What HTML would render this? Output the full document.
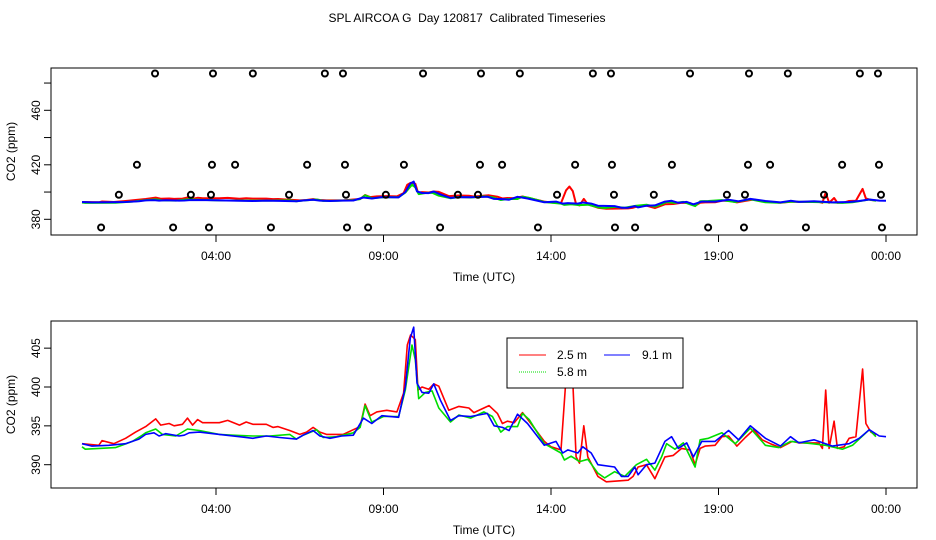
<!DOCTYPE html>
<html><head><meta charset="utf-8"><style>
html,body{margin:0;padding:0;background:#fff;}
svg{display:block;font-family:"Liberation Sans",Arial,sans-serif;}
</style></head><body>
<svg id="chart" width="936" height="540" viewBox="0 0 936 540">
<rect width="936" height="540" fill="#fff"/>
<text x="467" y="22" font-size="12" text-anchor="middle" style="white-space:pre" xml:space="preserve">SPL AIRCOA G  Day 120817  Calibrated Timeseries</text>
<g id="top"></g>
<g id="bot"></g>
</svg>
<script>
const xTicks = [4, 9, 14, 19, 24];
const xTickLabels = ["04:00", "09:00", "14:00", "19:00", "00:00"];
const topYTicks = [380, 400, 420, 440, 460, 480];
const topYLabels = ["380", "", "420", "", "460", ""];
const botYTicks = [390, 395, 400, 405];
const botYLabels = ["390", "395", "400", "405"];

const flagHoursA = [2.18,3.91,5.10,7.25,7.79,10.18,11.91,13.07,15.25,15.79,18.15,19.91,21.07,23.22,23.76];
const flagHoursB = [1.64,3.88,4.57,6.72,7.85,9.61,11.88,12.54,14.72,15.82,17.61,19.88,20.54,22.69,23.79];
const flagHoursC = [1.10,3.25,3.85,6.18,7.88,9.07,11.22,11.82,14.18,15.88,17.07,19.25,19.79,22.15,23.85];
const flagHoursD = [0.57,2.72,3.79,5.64,7.91,8.54,10.69,13.61,15.91,16.51,18.69,19.76,21.61,23.88];
const flagLevels = [487, 420, 398, 374];

const redHours = [0,0.5,0.6,0.95,1.3,1.6,1.9,2.2,2.35,2.6,2.75,3.0,3.15,3.3,3.45,3.6,4.1,4.35,4.7,4.9,5.1,5.5,5.7,5.85,6.2,6.5,6.7,6.9,7.1,7.3,7.8,8.1,8.3,8.45,8.6,8.8,9.1,9.4,9.6,9.71,9.81,9.95,10.03,10.15,10.35,10.5,10.65,10.95,11.25,11.55,11.7,12.15,12.4,12.55,12.7,12.9,13.15,13.4,13.8,14.0,14.3,14.45,14.55,14.65,14.75,14.85,14.98,15.1,15.4,15.65,16.3,16.45,16.6,16.85,17.1,17.4,17.65,17.9,18.15,18.3,18.45,18.6,18.9,19.1,19.3,19.55,19.8,20.05,20.3,20.55,20.85,21.2,21.4,22.0,22.1,22.2,22.3,22.45,22.55,22.75,22.9,23.1,23.3,23.4,23.55,23.7];
const redValues = [392.7,392.5,393.1,392.7,393.4,394.2,394.9,395.9,395.1,395.3,395.0,395.2,396.0,395.1,395.8,395.4,395.4,395.7,395.1,395.5,395.2,395.2,394.8,394.9,394.4,393.9,394.2,394.8,394.2,393.9,393.9,394.5,394.9,397.8,396.3,396.8,397.0,396.8,399.2,405.4,406.7,406.1,399.6,400.0,399.7,400.4,400.1,397.0,397.5,397.3,396.7,397.6,396.6,395.3,395.6,395.4,396.7,395.3,393.0,392.3,391.9,401.3,404.1,400.7,391.0,390.2,395.0,391.0,388.5,387.8,388.0,388.5,389.7,390.0,388.2,391.0,391.2,392.1,391.9,390.0,392.1,392.4,392.5,393.6,393.7,392.4,393.5,394.5,393.2,392.7,392.2,393.0,392.8,392.8,392.1,399.6,392.1,395.6,392.1,392.3,393.4,393.6,402.3,395.3,394.2,393.8];

const greenHours = [0,0.1,1.0,1.5,1.8,1.9,2.2,2.4,2.8,3.15,3.5,4.1,4.5,5.1,5.6,6.2,6.4,6.6,7.0,7.2,7.6,8.1,8.3,8.45,8.65,9.0,9.45,9.65,9.85,9.95,10.05,10.25,10.45,10.65,11.0,11.25,11.6,12.0,12.25,12.5,12.7,13.0,13.15,13.35,13.8,14.3,14.4,14.6,14.85,15.1,15.4,15.6,15.9,16.2,16.55,16.85,17.1,17.3,17.45,17.7,17.95,18.3,18.45,18.7,19.1,19.5,19.95,20.4,20.8,21.15,21.8,22.2,22.7,23.0,23.5,23.7];
const greenValues = [392.3,392.0,392.2,393.0,393.8,394.1,394.6,393.9,393.7,394.6,394.4,393.9,393.8,393.7,393.7,393.9,393.3,393.8,394.5,393.5,393.6,394.1,394.8,397.6,395.5,396.2,396.2,399.6,405.4,403.5,398.5,399.3,399.5,397.3,395.5,396.4,396.0,396.8,396.2,394.2,394.9,394.9,396.6,395.8,392.7,391.5,390.6,391.1,390.4,390.7,388.9,388.3,389.1,388.5,390.0,390.7,389.3,391.0,392.7,392.0,392.8,389.7,393.2,393.4,394.1,392.7,394.7,392.5,392.2,393.0,392.7,392.5,392.0,392.5,394.5,393.6];

const blueHours = [0,0.3,0.8,1.3,1.7,1.9,2.15,2.3,2.5,2.9,3.05,3.2,3.5,4.1,4.7,5.1,5.5,5.9,6.4,6.6,6.9,7.1,7.4,7.75,8.1,8.4,8.65,8.95,9.45,9.65,9.8,9.9,10.0,10.15,10.35,10.5,10.7,11.0,11.25,11.6,12.1,12.3,12.55,12.75,13.0,13.3,13.8,14.15,14.35,14.5,14.8,14.95,15.2,15.4,15.9,16.1,16.3,16.5,16.6,16.85,17.1,17.4,17.6,17.8,18.05,18.25,18.5,18.9,19.3,19.6,19.95,20.4,20.85,21.15,21.4,21.85,22.4,22.9,23.2,23.5,23.8,24.0];
const blueValues = [392.7,392.4,392.5,392.7,393.3,393.9,394.1,393.7,394.0,393.7,393.8,394.1,394.2,393.9,393.6,393.4,393.7,393.5,393.3,393.8,394.4,393.7,393.4,393.7,393.8,396.0,395.3,396.3,396.1,400.0,406.3,407.7,400.5,399.3,399.2,400.4,398.3,395.7,396.3,396.2,396.6,395.0,394.8,394.4,396.5,395.3,392.5,393.0,391.5,391.9,391.5,392.3,391.5,390.0,389.7,388.5,388.5,389.7,388.7,390.0,390.2,393.0,393.6,392.1,392.8,391.0,393.0,393.0,394.4,393.2,395.0,393.4,392.4,393.6,392.8,393.2,392.4,392.7,393.4,394.5,393.7,393.6];

const NS = "http://www.w3.org/2000/svg";
function mk(parent, tag, attrs, text) {
  const e = document.createElementNS(NS, tag);
  for (const k in attrs) e.setAttribute(k, attrs[k]);
  if (text !== undefined) e.textContent = text;
  parent.appendChild(e);
  return e;
}
function xScale(h) { return 82 + h * 33.5; }

function panel(g, box, yMin, yMax, yTicks, yLabels, lw, withFlags) {
  const yScale = v => box.b - (v - yMin) / (yMax - yMin) * (box.b - box.t);
  const frame = mk(g, "rect", {x: box.l, y: box.t, width: box.r - box.l, height: box.b - box.t, fill: "none", stroke: "#000", "stroke-width": 1});
  
  
  xTicks.forEach((h, i) => {
    const x = xScale(h);
    const t = mk(g, "line", {x1: x, x2: x, y1: box.b, y2: box.b + 7, stroke: "#000"});
    
    
    const lb = mk(g, "text", {x: x, y: box.b + 25, "font-size": 12, "text-anchor": "middle"}, xTickLabels[i]);
    
    
  });
  yTicks.forEach((v, i) => {
    const y = yScale(v);
    const t = mk(g, "line", {x1: box.l - 7, x2: box.l, y1: y, y2: y, stroke: "#000"});
    
    
    if (yLabels[i]) {
      const lb = mk(g, "text", {x: 0, y: 0, "font-size": 12, "text-anchor": "middle", transform: "translate(" + (box.l - 11) + "," + y + ") rotate(-90)"}, yLabels[i]);
      
      
    }
  });
  const xt = mk(g, "text", {x: 484, y: box.b + 46, "font-size": 12, "text-anchor": "middle"}, "Time (UTC)");
  
  
  const yt = mk(g, "text", {x: 0, y: 0, "font-size": 12, "text-anchor": "middle", transform: "translate(15," + ((box.t + box.b) / 2) + ") rotate(-90)"}, "CO2 (ppm)");
  
  

  const series = [["red", redHours, redValues, "line-2-5m"], ["#00dd00", greenHours, greenValues, "line-5-8m"], ["blue", blueHours, blueValues, "line-9-1m"]];
  series.forEach(s => {
    const pts = s[1].map((h, i) => xScale(h).toFixed(1) + "," + yScale(s[2][i]).toFixed(1)).join(" ");
    const p = mk(g, "polyline", {points: pts, fill: "none", stroke: s[0], "stroke-width": lw, "stroke-linejoin": "round"});
    
    
  });

  if (withFlags) {
    [flagHoursA, flagHoursB, flagHoursC, flagHoursD].forEach((arr, k) => {
      arr.forEach(h => {
        const c = mk(g, "circle", {cx: xScale(h), cy: yScale(flagLevels[k]), r: 3, fill: "none", stroke: "#000", "stroke-width": 2});
        
        
      });
    });
  }
  return yScale;
}

panel(document.getElementById("top"), {l: 51, r: 917, t: 68, b: 235}, 380 - (235-219.3)/1.3625, 380 + (219.3-68)/1.3625, topYTicks, topYLabels, 2, true);
panel(document.getElementById("bot"), {l: 51, r: 917, t: 321, b: 488}, 390 - (488-464.7)/7.77, 390 + (464.7-321)/7.77, botYTicks, botYLabels, 1.6, false);

const bot = document.getElementById("bot");
const lg = mk(bot, "g", {});


mk(lg, "rect", {x: 507, y: 338, width: 176, height: 50, fill: "#fff", stroke: "#000"});
const l1 = mk(lg, "line", {x1: 519, x2: 546, y1: 355, y2: 355, stroke: "red"});


mk(lg, "text", {x: 557, y: 359, "font-size": 12}, "2.5 m");
const l2 = mk(lg, "line", {x1: 604, x2: 630, y1: 355, y2: 355, stroke: "blue"});


mk(lg, "text", {x: 642, y: 359, "font-size": 12}, "9.1 m");
const l3 = mk(lg, "line", {x1: 519, x2: 546, y1: 372, y2: 372, stroke: "#00dd00", "stroke-dasharray": "1,1"});


mk(lg, "text", {x: 557, y: 376, "font-size": 12}, "5.8 m");
</script>
</body></html>
